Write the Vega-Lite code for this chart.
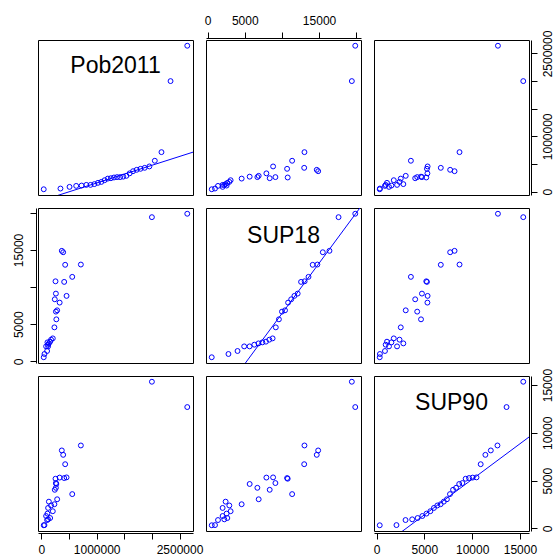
{
  "$schema": "https://vega.github.io/schema/vega-lite/v6.json",
  "background": "white",
  "padding": {"left": 11, "top": 13, "right": 0, "bottom": 0},
  "datasets": {
    "d": [
      {"Pob2011": 2640000, "SUP18": 19870, "SUP90": 12700},
      {"Pob2011": 2000000, "SUP18": 19410, "SUP90": 15350},
      {"Pob2011": 714000, "SUP18": 13035, "SUP90": 8680},
      {"Pob2011": 558000, "SUP18": 11377, "SUP90": 3590},
      {"Pob2011": 430000, "SUP18": 13000, "SUP90": 6720},
      {"Pob2011": 394000, "SUP18": 14690, "SUP90": 7700},
      {"Pob2011": 369000, "SUP18": 14880, "SUP90": 8160},
      {"Pob2011": 412000, "SUP18": 10700, "SUP90": 5270},
      {"Pob2011": 255000, "SUP18": 10780, "SUP90": 5200},
      {"Pob2011": 455000, "SUP18": 8816, "SUP90": 5340},
      {"Pob2011": 330000, "SUP18": 7913, "SUP90": 5320},
      {"Pob2011": 262000, "SUP18": 9126, "SUP90": 4747},
      {"Pob2011": 242000, "SUP18": 8358, "SUP90": 4041},
      {"Pob2011": 285000, "SUP18": 6875, "SUP90": 3050},
      {"Pob2011": 262000, "SUP18": 6700, "SUP90": 4250},
      {"Pob2011": 270000, "SUP18": 5662, "SUP90": 4650},
      {"Pob2011": 235000, "SUP18": 4583, "SUP90": 2530},
      {"Pob2011": 206000, "SUP18": 3100, "SUP90": 1800},
      {"Pob2011": 175000, "SUP18": 2925, "SUP90": 2400},
      {"Pob2011": 158000, "SUP18": 2656, "SUP90": 1087},
      {"Pob2011": 109000, "SUP18": 2561, "SUP90": 1550},
      {"Pob2011": 135000, "SUP18": 2426, "SUP90": 2800},
      {"Pob2011": 121000, "SUP18": 2251, "SUP90": 950},
      {"Pob2011": 85000, "SUP18": 2022, "SUP90": 1298},
      {"Pob2011": 121000, "SUP18": 2022, "SUP90": 2142},
      {"Pob2011": 103000, "SUP18": 1402, "SUP90": 876},
      {"Pob2011": 55000, "SUP18": 997, "SUP90": 348},
      {"Pob2011": 42000, "SUP18": 560, "SUP90": 330}
    ],
    "zq": [
      {"rank": 1, "z": -2.1002}, {"rank": 2, "z": -1.6108}, {"rank": 3, "z": -1.3451}, {"rank": 4, "z": -1.1503},
      {"rank": 5, "z": -0.9915}, {"rank": 6, "z": -0.8541}, {"rank": 7, "z": -0.7317}, {"rank": 8, "z": -0.6189},
      {"rank": 9, "z": -0.514}, {"rank": 10, "z": -0.4145}, {"rank": 11, "z": -0.3186}, {"rank": 12, "z": -0.2254},
      {"rank": 13, "z": -0.1346}, {"rank": 14, "z": -0.0448}, {"rank": 15, "z": 0.0448}, {"rank": 16, "z": 0.1346},
      {"rank": 17, "z": 0.2254}, {"rank": 18, "z": 0.3186}, {"rank": 19, "z": 0.4145}, {"rank": 20, "z": 0.514},
      {"rank": 21, "z": 0.6189}, {"rank": 22, "z": 0.7317}, {"rank": 23, "z": 0.8541}, {"rank": 24, "z": 0.9915},
      {"rank": 25, "z": 1.1503}, {"rank": 26, "z": 1.3451}, {"rank": 27, "z": 1.6108}, {"rank": 28, "z": 2.1002}
    ],
    "lines": [
      {"var": "Pob2011", "z": -2.268, "value": -183900},
      {"var": "Pob2011", "z": 2.268, "value": 713900},
      {"var": "SUP18", "z": -2.268, "value": -7398},
      {"var": "SUP18", "z": 2.268, "value": 20854},
      {"var": "SUP90", "z": -2.268, "value": -2500},
      {"var": "SUP90", "z": 2.268, "value": 9563}
    ]
  },
  "columns": 3,
  "spacing": {"row": 13, "column": 13},
  "bounds": "flush",
  "concat": [
    {
      "width": 155, "height": 155,
      "layer": [
        {
          "data": {"name": "d"},
          "transform": [
            {"window": [{"op": "row_number", "as": "rank"}], "sort": [{"field": "Pob2011", "order": "ascending"}]},
            {"lookup": "rank", "from": {"data": {"name": "zq"}, "key": "rank", "fields": ["z"]}}
          ],
          "mark": {"type": "point", "shape": "circle", "filled": false, "color": "#0000ff", "size": 24, "strokeWidth": 1, "opacity": 1},
          "encoding": {
            "x": {"field": "z", "type": "quantitative", "scale": {"domain": [-2.268, 2.268], "nice": false, "zero": false}, "axis": null},
            "y": {"field": "Pob2011", "type": "quantitative", "scale": {"domain": [-61920, 2743920], "nice": false, "zero": false}, "axis": null}
          }
        },
        {
          "data": {"name": "lines"},
          "transform": [{"filter": "datum.var == 'Pob2011'"}],
          "mark": {"type": "line", "color": "#0000ff", "strokeWidth": 1, "clip": true},
          "encoding": {
            "x": {"field": "z", "type": "quantitative", "scale": {"domain": [-2.268, 2.268], "nice": false, "zero": false}, "axis": null},
            "y": {"field": "value", "type": "quantitative", "scale": {"domain": [-61920, 2743920], "nice": false, "zero": false}, "axis": null}
          }
        },
        {
          "data": {"values": [{"label": "Pob2011"}]},
          "mark": {"type": "text", "font": "Liberation Sans", "fontSize": 23, "color": "#000000", "baseline": "middle", "align": "center"},
          "encoding": {
            "x": {"datum": 0, "type": "quantitative", "scale": {"domain": [-2.268, 2.268], "nice": false, "zero": false}, "axis": null},
            "y": {"datum": 2282000, "type": "quantitative", "scale": {"domain": [-61920, 2743920], "nice": false, "zero": false}, "axis": null},
            "text": {"field": "label"}
          }
        }
      ]
    },
    {
      "width": 155, "height": 155,
      "data": {"name": "d"},
      "mark": {"type": "point", "shape": "circle", "filled": false, "color": "#0000ff", "size": 24, "strokeWidth": 1, "opacity": 1},
      "encoding": {
        "x": {"field": "SUP18", "type": "quantitative", "scale": {"domain": [-213.6, 20643.6], "nice": false, "zero": false},
              "axis": {"orient": "top", "title": null, "values": [0, 5000, 10000, 15000, 20000], "format": "d",
                       "labelExpr": "datum.value == 10000 || datum.value == 20000 ? '' : datum.label"}},
        "y": {"field": "Pob2011", "type": "quantitative", "scale": {"domain": [-61920, 2743920], "nice": false, "zero": false}, "axis": null}
      }
    },
    {
      "width": 155, "height": 155,
      "data": {"name": "d"},
      "mark": {"type": "point", "shape": "circle", "filled": false, "color": "#0000ff", "size": 24, "strokeWidth": 1, "opacity": 1},
      "encoding": {
        "x": {"field": "SUP90", "type": "quantitative", "scale": {"domain": [-270.8, 15950.8], "nice": false, "zero": false}, "axis": null},
        "y": {"field": "Pob2011", "type": "quantitative", "scale": {"domain": [-61920, 2743920], "nice": false, "zero": false},
              "axis": {"orient": "right", "title": null, "values": [0, 500000, 1000000, 1500000, 2000000, 2500000], "format": "d",
                       "labelAngle": 270, "labelAlign": "center", "labelBaseline": "top",
                       "labelExpr": "datum.value == 0 || datum.value == 1000000 || datum.value == 2500000 ? datum.label : ''"}}
      }
    },
    {
      "width": 155, "height": 155,
      "data": {"name": "d"},
      "mark": {"type": "point", "shape": "circle", "filled": false, "color": "#0000ff", "size": 24, "strokeWidth": 1, "opacity": 1},
      "encoding": {
        "x": {"field": "Pob2011", "type": "quantitative", "scale": {"domain": [-61920, 2743920], "nice": false, "zero": false}, "axis": null},
        "y": {"field": "SUP18", "type": "quantitative", "scale": {"domain": [-213.6, 20643.6], "nice": false, "zero": false},
              "axis": {"orient": "left", "title": null, "values": [0, 5000, 10000, 15000, 20000], "format": "d",
                       "labelAngle": 270, "labelAlign": "center", "labelBaseline": "bottom",
                       "labelExpr": "datum.value == 10000 || datum.value == 20000 ? '' : datum.label"}}
      }
    },
    {
      "width": 155, "height": 155,
      "layer": [
        {
          "data": {"name": "d"},
          "transform": [
            {"window": [{"op": "row_number", "as": "rank"}], "sort": [{"field": "SUP18", "order": "ascending"}]},
            {"lookup": "rank", "from": {"data": {"name": "zq"}, "key": "rank", "fields": ["z"]}}
          ],
          "mark": {"type": "point", "shape": "circle", "filled": false, "color": "#0000ff", "size": 24, "strokeWidth": 1, "opacity": 1},
          "encoding": {
            "x": {"field": "z", "type": "quantitative", "scale": {"domain": [-2.268, 2.268], "nice": false, "zero": false}, "axis": null},
            "y": {"field": "SUP18", "type": "quantitative", "scale": {"domain": [-213.6, 20643.6], "nice": false, "zero": false}, "axis": null}
          }
        },
        {
          "data": {"name": "lines"},
          "transform": [{"filter": "datum.var == 'SUP18'"}],
          "mark": {"type": "line", "color": "#0000ff", "strokeWidth": 1, "clip": true},
          "encoding": {
            "x": {"field": "z", "type": "quantitative", "scale": {"domain": [-2.268, 2.268], "nice": false, "zero": false}, "axis": null},
            "y": {"field": "value", "type": "quantitative", "scale": {"domain": [-213.6, 20643.6], "nice": false, "zero": false}, "axis": null}
          }
        },
        {
          "data": {"values": [{"label": "SUP18"}]},
          "mark": {"type": "text", "font": "Liberation Sans", "fontSize": 23, "color": "#000000", "baseline": "middle", "align": "center"},
          "encoding": {
            "x": {"datum": 0, "type": "quantitative", "scale": {"domain": [-2.268, 2.268], "nice": false, "zero": false}, "axis": null},
            "y": {"datum": 16900, "type": "quantitative", "scale": {"domain": [-213.6, 20643.6], "nice": false, "zero": false}, "axis": null},
            "text": {"field": "label"}
          }
        }
      ]
    },
    {
      "width": 155, "height": 155,
      "data": {"name": "d"},
      "mark": {"type": "point", "shape": "circle", "filled": false, "color": "#0000ff", "size": 24, "strokeWidth": 1, "opacity": 1},
      "encoding": {
        "x": {"field": "SUP90", "type": "quantitative", "scale": {"domain": [-270.8, 15950.8], "nice": false, "zero": false}, "axis": null},
        "y": {"field": "SUP18", "type": "quantitative", "scale": {"domain": [-213.6, 20643.6], "nice": false, "zero": false}, "axis": null}
      }
    },
    {
      "width": 155, "height": 155,
      "data": {"name": "d"},
      "mark": {"type": "point", "shape": "circle", "filled": false, "color": "#0000ff", "size": 24, "strokeWidth": 1, "opacity": 1},
      "encoding": {
        "x": {"field": "Pob2011", "type": "quantitative", "scale": {"domain": [-61920, 2743920], "nice": false, "zero": false},
              "axis": {"orient": "bottom", "title": null, "values": [0, 500000, 1000000, 1500000, 2000000, 2500000], "format": "d",
                       "labelExpr": "datum.value == 0 || datum.value == 1000000 || datum.value == 2500000 ? datum.label : ''"}},
        "y": {"field": "SUP90", "type": "quantitative", "scale": {"domain": [-270.8, 15950.8], "nice": false, "zero": false}, "axis": null}
      }
    },
    {
      "width": 155, "height": 155,
      "data": {"name": "d"},
      "mark": {"type": "point", "shape": "circle", "filled": false, "color": "#0000ff", "size": 24, "strokeWidth": 1, "opacity": 1},
      "encoding": {
        "x": {"field": "SUP18", "type": "quantitative", "scale": {"domain": [-213.6, 20643.6], "nice": false, "zero": false}, "axis": null},
        "y": {"field": "SUP90", "type": "quantitative", "scale": {"domain": [-270.8, 15950.8], "nice": false, "zero": false}, "axis": null}
      }
    },
    {
      "width": 155, "height": 155,
      "resolve": {"scale": {"x": "independent"}, "axis": {"x": "independent"}},
      "layer": [
        {
          "data": {"name": "d"},
          "mark": {"type": "point", "opacity": 0},
          "encoding": {
            "x": {"field": "SUP90", "type": "quantitative", "scale": {"domain": [-270.8, 15950.8], "nice": false, "zero": false},
                  "axis": {"orient": "bottom", "title": null, "values": [0, 5000, 10000, 15000], "format": "d"}},
            "y": {"field": "SUP90", "type": "quantitative", "scale": {"domain": [-270.8, 15950.8], "nice": false, "zero": false},
                  "axis": {"orient": "right", "title": null, "values": [0, 5000, 10000, 15000], "format": "d",
                           "labelAngle": 270, "labelAlign": "center", "labelBaseline": "top"}}
          }
        },
        {
          "data": {"name": "d"},
          "transform": [
            {"window": [{"op": "row_number", "as": "rank"}], "sort": [{"field": "SUP90", "order": "ascending"}]},
            {"lookup": "rank", "from": {"data": {"name": "zq"}, "key": "rank", "fields": ["z"]}}
          ],
          "mark": {"type": "point", "shape": "circle", "filled": false, "color": "#0000ff", "size": 24, "strokeWidth": 1, "opacity": 1},
          "encoding": {
            "x": {"field": "z", "type": "quantitative", "scale": {"domain": [-2.268, 2.268], "nice": false, "zero": false}, "axis": null},
            "y": {"field": "SUP90", "type": "quantitative", "scale": {"domain": [-270.8, 15950.8], "nice": false, "zero": false},
                  "axis": {"orient": "right", "title": null, "values": [0, 5000, 10000, 15000], "format": "d",
                           "labelAngle": 270, "labelAlign": "center", "labelBaseline": "top"}}
          }
        },
        {
          "data": {"name": "lines"},
          "transform": [{"filter": "datum.var == 'SUP90'"}],
          "mark": {"type": "line", "color": "#0000ff", "strokeWidth": 1, "clip": true},
          "encoding": {
            "x": {"field": "z", "type": "quantitative", "scale": {"domain": [-2.268, 2.268], "nice": false, "zero": false}, "axis": null},
            "y": {"field": "value", "type": "quantitative", "scale": {"domain": [-270.8, 15950.8], "nice": false, "zero": false},
                  "axis": {"orient": "right", "title": null, "values": [0, 5000, 10000, 15000], "format": "d",
                           "labelAngle": 270, "labelAlign": "center", "labelBaseline": "top"}}
          }
        },
        {
          "data": {"values": [{"label": "SUP90"}]},
          "mark": {"type": "text", "font": "Liberation Sans", "fontSize": 23, "color": "#000000", "baseline": "middle", "align": "center"},
          "encoding": {
            "x": {"datum": 0, "type": "quantitative", "scale": {"domain": [-2.268, 2.268], "nice": false, "zero": false}, "axis": null},
            "y": {"datum": 13096, "type": "quantitative", "scale": {"domain": [-270.8, 15950.8], "nice": false, "zero": false},
                  "axis": {"orient": "right", "title": null, "values": [0, 5000, 10000, 15000], "format": "d",
                           "labelAngle": 270, "labelAlign": "center", "labelBaseline": "top"}},
            "text": {"field": "label"}
          }
        }
      ]
    }
  ],
  "config": {
    "view": {"stroke": "#000000", "strokeWidth": 1, "fill": "white"},
    "font": "Liberation Sans",
    "axis": {
      "grid": false,
      "domainColor": "#000000",
      "domainWidth": 1,
      "tickColor": "#000000",
      "tickWidth": 1,
      "tickSize": 6,
      "offset": 2,
      "labelColor": "#000000",
      "labelFont": "Liberation Sans",
      "labelFontSize": 12,
      "labelPadding": 5,
      "labelOverlap": false,
      "labelFlush": false,
      "labelBound": false
    }
  }
}
